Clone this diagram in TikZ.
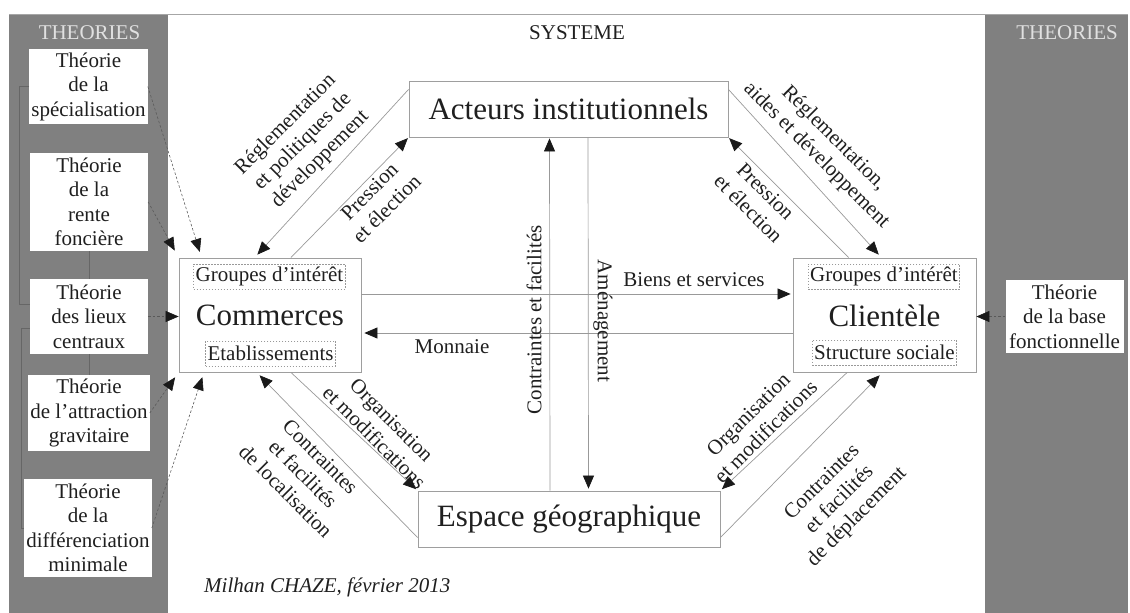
\documentclass[tikz,border=0pt]{standalone}
\usepackage{fontspec}
\setmainfont{Liberation Serif}
\usetikzlibrary{arrows.meta}

\begin{document}
\begin{tikzpicture}[x=1pt,y=1pt,
    txt/.style={font=\fontsize{21}{24.5}\selectfont, text=black!88, align=center, inner sep=0pt},
    bigtxt/.style={font=\fontsize{31}{36}\selectfont, text=black!88, inner sep=0pt},
    sysbox/.style={draw=black!38, line width=0.8pt},
    subbox/.style={txt, draw=black!40, dash pattern=on 1.5pt off 1.5pt, line width=0.6pt, inner xsep=2pt, minimum height=25pt},
    theo/.style={txt, fill=white, minimum width=118pt, inner xsep=2pt},
    rel/.style={draw=black!40, line width=0.7pt, -{Triangle[length=13pt,width=11pt,color=black!90]}},
    infl/.style={draw=black!65, line width=0.6pt, dash pattern=on 2.5pt off 2pt, -{Triangle[length=13pt,width=11pt,color=black!90]}},
    brk/.style={draw=black!60, line width=0.7pt}]
  \useasboundingbox (0,0) rectangle (1130,-613);
  % panneaux des theories
  \fill[gray] (9,-14) rectangle (168,-613);
  \fill[gray] (985,-14) rectangle (1128,-613);
  \draw[black!35, line width=0.8pt] (9,-14) -- (1128,-14);
  \node[txt, text=black!12] (thl) at (89.5,-33) {THEORIES};
  \node[txt] (sys) at (577,-33) {SYSTEME};
  \node[txt, text=black!12] (thr) at (1067,-33) {THEORIES};

  % theories
  \node[theo, minimum height=75pt] (t1) at (88.5,-86.5) {Théorie\\de la\\spécialisation};
  \node[theo, minimum height=98pt] (t2) at (89,-202) {Théorie\\de la\\rente\\foncière};
  \node[theo, minimum height=75pt] (t3) at (89,-316.5) {Théorie\\des lieux\\centraux};
  \node[theo, minimum height=76pt] (t4) at (89,-413) {Théorie\\de l’attraction\\gravitaire};
  \node[theo, minimum height=98pt] (t5) at (88,-528) {Théorie\\de la\\différenciation\\minimale};
  \node[theo, minimum height=73pt] (t6) at (1064.5,-316.5) {Théorie\\de la base\\fonctionnelle};
  \draw[brk] (t1.west) -- ++(-10,0) |- ([yshift=12.5pt]t3.west);
  \draw[brk] (t2.south) -- (t3.north);
  \draw[brk] ([yshift=-11.5pt]t3.west) -- ++(-8,0) |- (t5.west);
  \draw[brk] (t3.south) -- (t4.north);

  % systeme
  \node[sysbox, bigtxt, minimum width=319pt, minimum height=56pt] (act) at (568.5,-109) {Acteurs institutionnels};
  \node[sysbox, bigtxt, minimum width=302pt, minimum height=56pt] (esp) at (569,-519) {Espace géographique};
  \node[sysbox, minimum width=182pt, minimum height=114pt] (com) at (270,-315) {};
  \node[bigtxt] (comn) at (270,-315) {Commerces};
  \node[subbox] (comg) at (269.5,-276.5) {Groupes d’intérêt};
  \node[subbox] (come) at (270.5,-353.5) {Etablissements};
  \node[sysbox, minimum width=183pt, minimum height=114pt] (cli) at (884.5,-315) {};
  \node[bigtxt] (clin) at (884.5,-316) {Clientèle};
  \node[subbox] (clig) at (884,-276.5) {Groupes d’intérêt};
  \node[subbox] (clis) at (884.5,-352.5) {Structure sociale};

  % relations
  \draw[rel, shorten >=4pt] (act.173) -- (com.105);
  \draw[rel, shorten >=1pt] (com.70) -- (act.south west);
  \draw[rel, shorten >=4pt] (act.7) -- (cli.93);
  \draw[rel, shorten >=1pt] (cli.122.6) -- (act.south east);
  \draw[rel, shorten >=4pt] (esp.187) -- (com.257);
  \draw[rel, shorten >=2pt] (com.290) -- (esp.north west);
  \draw[rel, shorten >=2pt] (cli.237.4) -- (esp.north east);
  \draw[rel, shorten >=4pt] (esp.353) -- (cli.268);
  \draw[rel, shorten >=1pt] ([xshift=-19pt]esp.north) -- ([xshift=-19pt]act.south);
  \draw[rel, shorten >=2pt] ([xshift=19.5pt]act.south) -- ([xshift=19.5pt]esp.north);
  \draw[rel, shorten >=2pt] ([yshift=21pt]com.east) -- ([yshift=21pt]cli.west);
  \draw[rel, shorten >=3pt] ([yshift=-18pt]cli.west) -- ([yshift=-18pt]com.east);

  % influences des theories
  \draw[infl, shorten >=6pt] (t1.east) -- (com.140);
  \draw[infl, shorten >=8pt] (t2.east) -- (com.north west);
  \draw[infl] (t3.east) -- (t3.east -| com.west);
  \draw[infl, shorten >=6pt] (t4.east) -- (com.south west);
  \draw[infl, shorten >=5pt] (t5.east) -- (com.221);
  \draw[infl] (t6.west) -- (t6.west -| cli.east);

  % libelles
  \node[txt, rotate=45] (lreg) at (303,-142) {Réglementation\\et politiques de\\développement};
  \node[txt, rotate=45] (lpre) at (378,-200) {Pression\\et élection};
  \node[txt, rotate=-45] (rreg) at (825,-147) {Réglementation,\\aides et développement};
  \node[txt, rotate=-45] (rpre) at (757,-200) {Pression\\et élection};
  \node[txt, rotate=-45] (lorg) at (383,-429) {Organisation\\et modifications};
  \node[txt, rotate=-45] (lcon) at (303,-474) {Contraintes\\et facilités\\de localisation};
  \node[txt, rotate=45] (rorg) at (757,-423) {Organisation\\et modifications};
  \node[txt, rotate=45] (rcon) at (840,-500) {Contraintes\\et facilités\\de déplacement};
  \node[txt, rotate=90] (lcf) at (534,-320) {Contraintes et facilités};
  \node[txt, rotate=-90] (lame) at (603,-321) {Aménagement};
  \node[txt] (lbie) at (694,-280) {Biens et services};
  \node[txt] (lmon) at (452,-347) {Monnaie};
  \node[txt, font=\fontsize{21}{24.5}\selectfont\itshape, anchor=west] (sig) at (204,-587) {Milhan CHAZE, février 2013};
\end{tikzpicture}
\end{document}
